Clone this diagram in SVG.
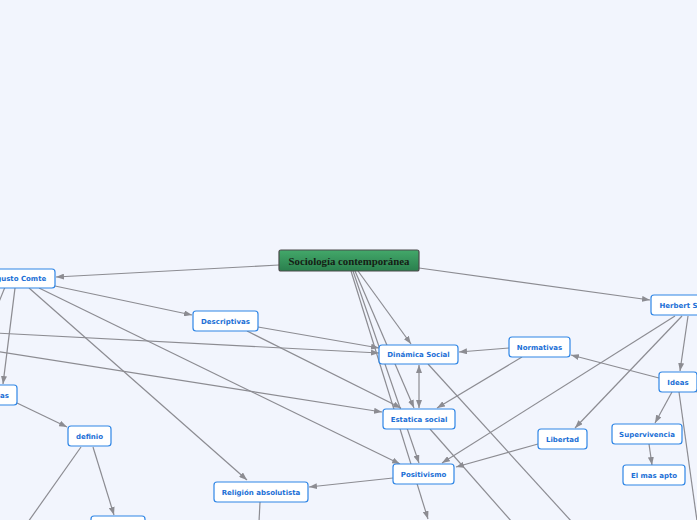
<svg xmlns="http://www.w3.org/2000/svg" width="697" height="520" viewBox="0 0 697 520">
<style>
.n rect{fill:#ffffff;stroke:#2f86e6;stroke-width:1.2}
.n text{font-family:"DejaVu Sans",Verdana,sans-serif;font-weight:bold;font-size:7px;fill:#1b6fd6;text-anchor:middle}
#edges path{fill:none;stroke:#8c8c92;stroke-width:1.2}
.a{marker-end:url(#ah)}
.b{marker-start:url(#ah);marker-end:url(#ah)}
</style>
<defs>
<linearGradient id="g" x1="0" y1="0" x2="0" y2="1">
<stop offset="0" stop-color="#43a86a"/>
<stop offset="1" stop-color="#2a7f4d"/>
</linearGradient>
<marker id="ah" viewBox="0 0 8 6" refX="8" refY="3" markerWidth="8" markerHeight="6" markerUnits="userSpaceOnUse" orient="auto-start-reverse">
<path d="M0,0 L8,3 L0,6 z" fill="#8c8c92"/>
</marker>
</defs>
<rect width="697" height="520" fill="#f2f5fd"/>
<g id="edges">
<path class="a" d="M279,265 L56,277"/>
<path class="a" d="M419,268 L650,300"/>
<path class="a" d="M358,271 L411,344"/>
<path class="a" d="M355,271 L414,408"/>
<path class="a" d="M353,271 L419,463"/>
<path class="a" d="M351,271 L428,519"/>
<path class="a" d="M55,286 L192,315"/>
<path class="a" d="M39,288 L400,464"/>
<path class="a" d="M29,288 L247,480"/>
<path class="a" d="M15,288 L3,384"/>
<path d="M5,287 L-1,302"/>
<path class="a" d="M-5,333 L379,353"/>
<path class="a" d="M-5,351 L382,412"/>
<path class="a" d="M258,327 L379,348"/>
<path class="a" d="M247,331 L401,408"/>
<path class="a" d="M509,348 L459,352"/>
<path class="a" d="M522,357 L437,408"/>
<path class="b" d="M419,365 L419,408"/>
<path d="M428,364 L572,522"/>
<path d="M430,429 L512,522"/>
<path class="a" d="M675,316 L442,463"/>
<path class="a" d="M682,316 L575,428"/>
<path class="a" d="M688,316 L680,371"/>
<path class="a" d="M659,378 L571,355"/>
<path class="a" d="M672,392 L655,423"/>
<path d="M679,392 L698,528"/>
<path d="M693,389 L702,396"/>
<path class="a" d="M649,444 L652,465"/>
<path class="a" d="M538,444 L456,467"/>
<path class="a" d="M393,478 L309,487"/>
<path d="M260,502 L259,522"/>
<path class="a" d="M17,403 L67,427"/>
<path d="M81,447 L28,522"/>
<path class="a" d="M93,447 L114,515"/>
</g>
<g id="root">
<rect x="279" y="250" width="140" height="21" rx="2" fill="url(#g)" stroke="#4a4a4a" stroke-width="1.2"/>
<text x="349" y="264.5" font-family="Liberation Serif,serif" font-weight="bold" font-size="10.8" fill="#152015" text-anchor="middle">Sociología contemporánea</text>
</g>
<g id="augusto" class="n"><rect x="-22" y="269" width="77" height="19" rx="3"/><text x="16" y="281">Augusto Comte</text></g>
<g id="descriptivas" class="n"><rect x="193" y="311" width="65" height="20" rx="3"/><text x="225.5" y="323.5">Descriptivas</text></g>
<g id="dinamica" class="n"><rect x="379" y="345" width="79" height="19" rx="3"/><text x="418.5" y="357">Dinámica Social</text></g>
<g id="normativas" class="n"><rect x="509" y="337" width="61" height="20" rx="3"/><text x="539.5" y="349.5">Normativas</text></g>
<g id="herbert" class="n"><rect x="651" y="295" width="82" height="20" rx="3"/><text x="692" y="307.5">Herbert Spencer</text></g>
<g id="ideas" class="n"><rect x="659" y="372" width="38" height="20" rx="3"/><text x="678" y="384.5">Ideas</text></g>
<g id="supervivencia" class="n"><rect x="612" y="424" width="70" height="20" rx="3"/><text x="647" y="436.5">Supervivencia</text></g>
<g id="elmasapto" class="n"><rect x="623" y="465" width="62" height="20" rx="3"/><text x="654" y="477.5">El mas apto</text></g>
<g id="libertad" class="n"><rect x="538" y="429" width="49" height="20" rx="3"/><text x="562.5" y="441.5">Libertad</text></g>
<g id="estatica" class="n"><rect x="383" y="409" width="72" height="20" rx="3"/><text x="419" y="421.5">Estatica social</text></g>
<g id="positivismo" class="n"><rect x="393" y="464" width="61" height="20" rx="3"/><text x="423.5" y="476.5">Positivismo</text></g>
<g id="religion" class="n"><rect x="214" y="482" width="94" height="20" rx="3"/><text x="261" y="494.5">Religión absolutista</text></g>
<g id="etapas" class="n"><rect x="-30" y="385" width="47" height="20" rx="3"/><text x="9" y="397.5" style="text-anchor:end">Ideas</text></g>
<g id="definio" class="n"><rect x="68" y="426" width="43" height="20" rx="3"/><text x="89.5" y="438.5">definio</text></g>
<g id="bottombox" class="n"><rect x="91" y="516" width="54" height="20" rx="3"/></g>
</svg>
